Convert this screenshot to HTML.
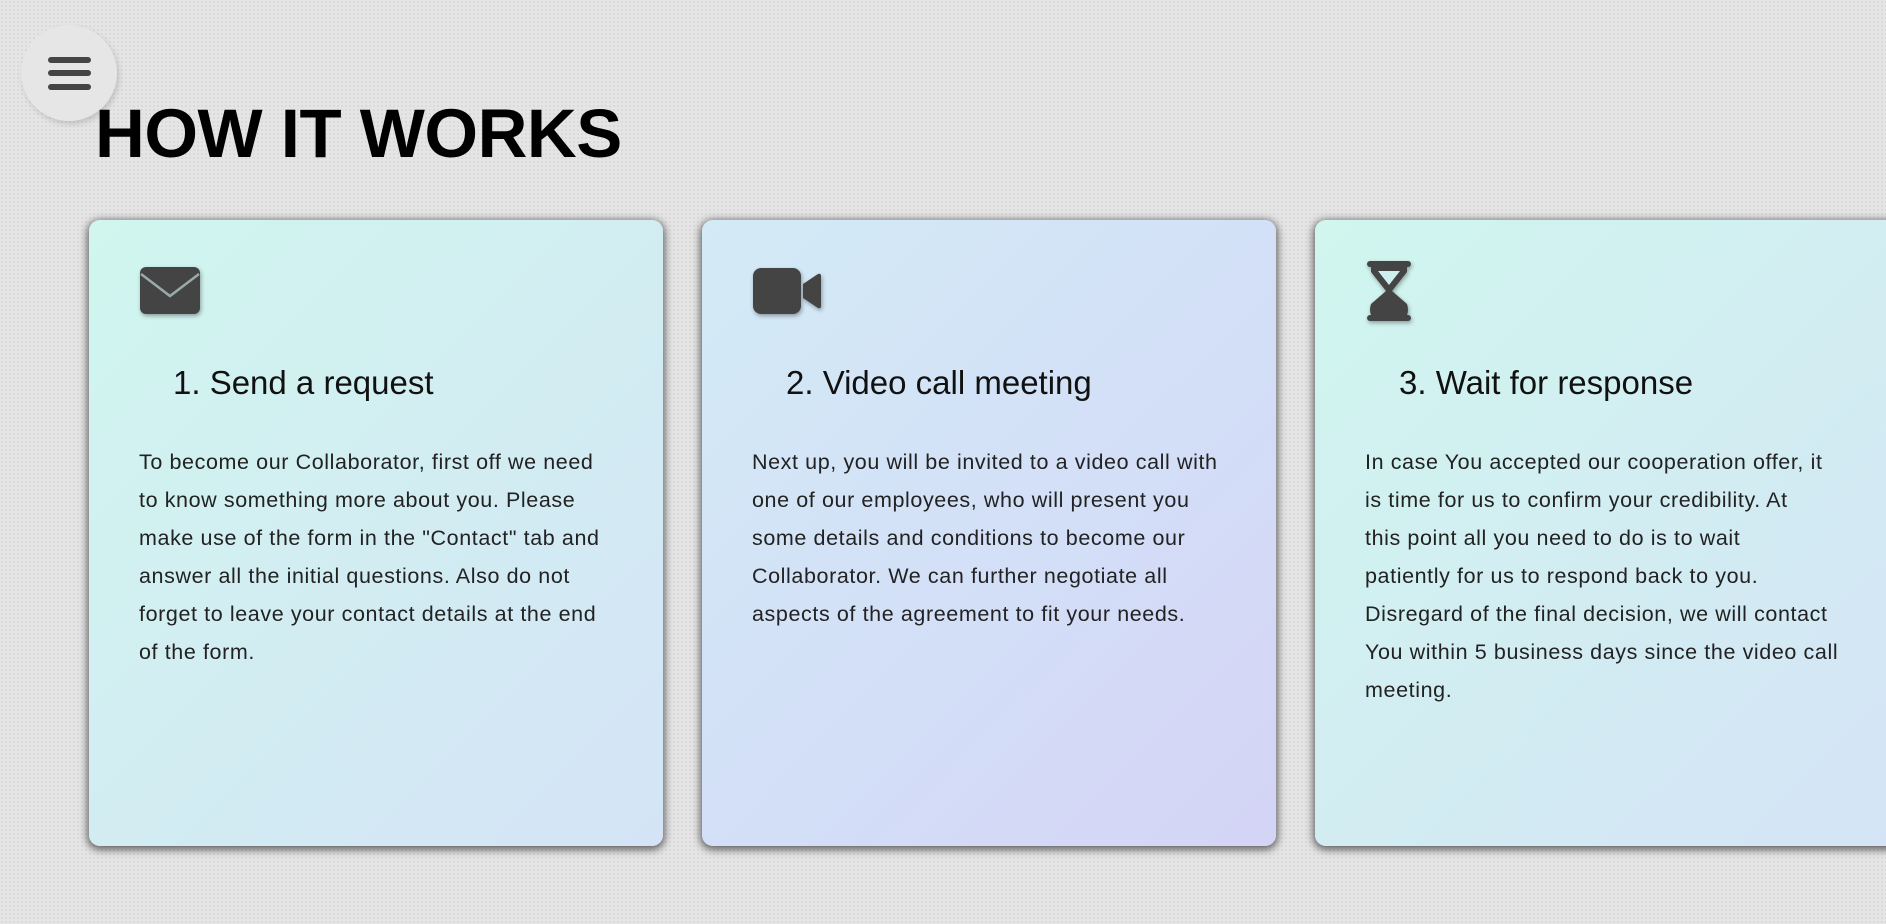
<!DOCTYPE html>
<html><head><meta charset="utf-8"><style>
html,body{margin:0;padding:0;width:1886px;height:924px;overflow:hidden;background:#e5e5e5;font-family:"Liberation Sans",sans-serif;}
body{background-image:radial-gradient(#d6d6d6 0.8px,transparent 0.9px);background-size:4px 4px;}
.menu{position:absolute;left:21px;top:25px;width:96px;height:96px;border-radius:50%;background:#e6e6e6;box-shadow:2px 3px 6px rgba(0,0,0,.15);}
.menu i{position:absolute;left:27px;width:43px;height:6px;border-radius:3px;background:#454545;}
h1{position:absolute;left:95px;top:99px;margin:0;font-size:69px;font-weight:bold;letter-spacing:-0.5px;color:#000;line-height:1;}
.card{position:absolute;top:220px;width:574px;height:626px;border-radius:11px;box-shadow:0 2px 8px 2px rgba(0,0,0,.55);}
.c1{left:89px;background:linear-gradient(135deg,#d0f6ee,#d4e4f6);}
.c2{left:702px;background:linear-gradient(135deg,#d3ebf6,#d3e0f7 50%,#d4d4f6);}
.c3{left:1315px;width:600px;background:linear-gradient(135deg,#d0f6ee,#d4e4f6);}
.icon{position:absolute;left:50px;top:46px;filter:drop-shadow(1px 2px 2px rgba(0,0,0,.35));}
h2{position:absolute;left:84px;top:144px;margin:0;font-weight:normal;font-size:33px;color:#111;white-space:nowrap;}
p{position:absolute;left:50px;top:223px;margin:0;font-size:21.5px;letter-spacing:0.6px;line-height:38px;color:#222;white-space:nowrap;}
</style></head><body>
<div class="menu"><i style="top:32px"></i><i style="top:45px"></i><i style="top:59px"></i></div>
<h1>HOW IT WORKS</h1>

<div class="card c1">
<svg class="icon" width="62" height="50" viewBox="0 0 62 50"><rect x="1" y="1" width="60" height="47" rx="6" fill="#444"/><path d="M2 8 L31 30 L60 8" stroke="#9aa" stroke-width="2.5" fill="none"/></svg>
<h2>1. Send a request</h2>
<p>To become our Collaborator, first off we need<br>to know something more about you. Please<br>make use of the form in the "Contact" tab and<br>answer all the initial questions. Also do not<br>forget to leave your contact details at the end<br>of the form.</p>
</div>

<div class="card c2">
<svg class="icon" width="70" height="50" viewBox="0 0 70 50"><rect x="1" y="2" width="48" height="46" rx="8" fill="#444"/><path d="M51 18 L66 8 Q69 7 69 10 L69 40 Q69 43 66 42 L51 32 Z" fill="#444"/></svg>
<h2>2. Video call meeting</h2>
<p>Next up, you will be invited to a video call with<br>one of our employees, who will present you<br>some details and conditions to become our<br>Collaborator. We can further negotiate all<br>aspects of the agreement to fit your needs.</p>
</div>

<div class="card c3">
<svg class="icon" style="top:40px" width="48" height="62" viewBox="0 0 48 62"><rect x="2" y="1" width="44" height="6" rx="3" fill="#444"/><rect x="2" y="55" width="44" height="6" rx="3" fill="#444"/><path d="M6 7 L42 7 L42 12 L27 31 L42 44 Q44 50 42 55 L6 55 Q4 50 6 44 L21 31 L6 12 Z" fill="#444"/><path d="M13 11 L35 11 L24 25 Z" fill="#cfeeee"/></svg>
<h2>3. Wait for response</h2>
<p>In case You accepted our cooperation offer, it<br>is time for us to confirm your credibility. At<br>this point all you need to do is to wait<br>patiently for us to respond back to you.<br>Disregard of the final decision, we will contact<br>You within 5 business days since the video call<br>meeting.</p>
</div>
</body></html>
